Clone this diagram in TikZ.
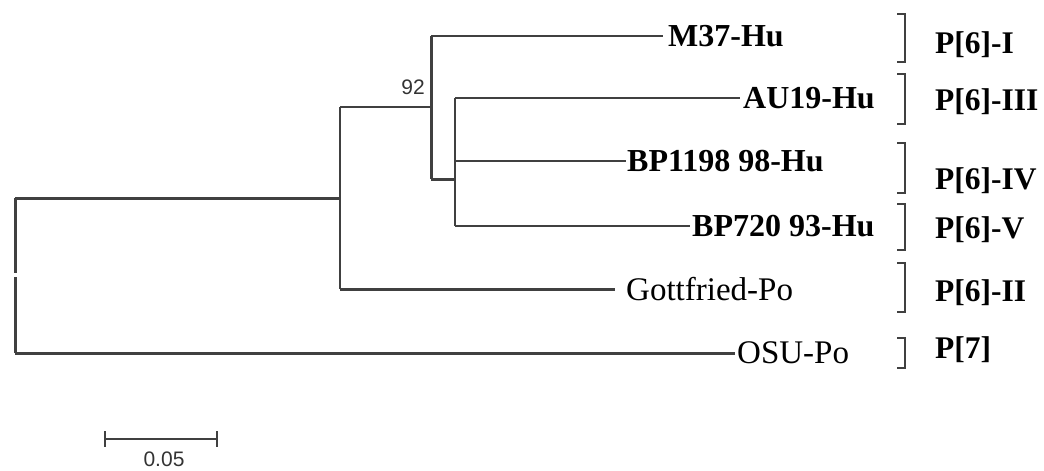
\documentclass[tikz,border=0pt]{standalone}
\usepackage{fontspec}
\setmainfont{Liberation Serif}
\setsansfont{Liberation Sans}
\begin{document}
\begin{tikzpicture}[x=1pt,y=-1pt,
  thin branch/.style={draw=black!75, line width=1.5pt},
  thick branch/.style={draw=black!75, line width=3pt},
  strain/.style={anchor=west, inner sep=0pt, font=\fontsize{33}{36}\selectfont},
  strainb/.style={strain, font=\fontsize{32}{36}\selectfont\bfseries},
  ptype/.style={anchor=west, inner sep=0pt, font=\fontsize{31.5}{36}\selectfont\bfseries},
  brk/.style={draw=black!75, line width=1.5pt},
  num/.style={inner sep=0pt, font=\sffamily\fontsize{21}{24}\selectfont, text=black!80}]
\useasboundingbox (0,0) rectangle (1044,471);
% tree junction coordinates
\coordinate (rtop) at (15,198);
\coordinate (rgapa) at (15,273);
\coordinate (rgapb) at (15,277);
\coordinate (rbot) at (15,353);
\coordinate (n1top) at (340,107);
\coordinate (n1mid) at (340,198);
\coordinate (n1bot) at (340,289);
\coordinate (n2top) at (431,36);
\coordinate (n2mid) at (431,107);
\coordinate (n2bot) at (431,179);
\coordinate (n3top) at (455,98);
\coordinate (n3mid) at (455,179);
\coordinate (n3low) at (455,161);
\coordinate (n3bot) at (455,226);
% tips
\coordinate (tM) at (663,36);
\coordinate (tA) at (740,98);
\coordinate (tB1) at (626,161);
\coordinate (tB7) at (690,226);
\coordinate (tG) at (615,289);
\coordinate (tO) at (735,353);
% root
\draw[thick branch] (rtop) -- (rgapa);
\draw[thick branch] (rgapb) -- (rbot);
\draw[thick branch] (rtop) -- (n1mid);
\draw[thick branch] (rbot) -- (tO);
% node 1
\draw[thin branch] (n1top) -- (n1bot);
\draw[thin branch] (n1top) -- (n2mid);
\draw[thick branch] (n1bot) -- (tG);
% node 2 (92)
\draw[thick branch] (n2top) -- (n2bot);
\draw[thin branch] (n2top) -- (tM);
\draw[thick branch] (n2bot) -- (n3mid);
% node 3
\draw[thin branch] (n3top) -- (n3bot);
\draw[thin branch] (n3top) -- (tA);
\draw[thin branch] (n3low) -- (tB1);
\draw[thin branch] (n3bot) -- (tB7);
% bootstrap
\node[num] (b92) at (413,87) {92};
% strain labels
\node[strainb] (lM) at ([xshift=5pt]tM) {M37-Hu};
\node[strainb] (lA) at ([xshift=3pt]tA) {AU19-Hu};
\node[strainb] (lB1) at ([xshift=1pt]tB1) {BP1198 98-Hu};
\node[strainb] (lB7) at ([xshift=2pt]tB7) {BP720 93-Hu};
\node[strain] (lG) at ([xshift=11pt]tG) {Gottfried-Po};
\node[strain] (lO) at ([xshift=2pt]tO) {OSU-Po};
% brackets
\foreach \t/\b [count=\i] in {14/62, 74/124, 143/193, 204/250, 263/312, 338/368}{
  \draw[brk] (897,\t) -- (905,\t) -- (905,\b) -- (897,\b);
}
% P-type labels
\node[ptype] (p1) at (935,45) {P[6]-I};
\node[ptype] (p2) at (935,102) {P[6]-III};
\node[ptype] (p3) at (935,181) {P[6]-IV};
\node[ptype] (p4) at (935,230) {P[6]-V};
\node[ptype] (p5) at (935,293) {P[6]-II};
\node[ptype] (p6) at (935,350) {P[7]};
% scale bar
\coordinate (sL) at (105,439);
\coordinate (sR) at (217,439);
\draw[thin branch] (sL) -- (sR);
\draw[thin branch] (105,431) -- (105,447);
\draw[thin branch] (217,431) -- (217,447);
\node[num] (sc) at (164,459) {0.05};
\end{tikzpicture}
\end{document}
